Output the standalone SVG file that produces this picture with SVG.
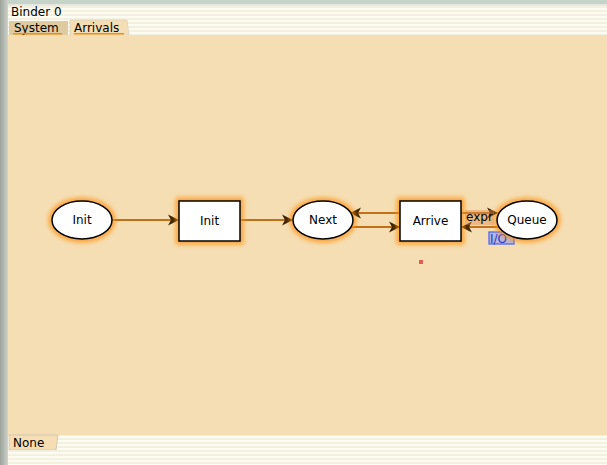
<svg xmlns="http://www.w3.org/2000/svg" width="607" height="465" viewBox="0 0 607 465">
<style>
.lbl{font-family:"DejaVu Sans","Liberation Sans",sans-serif;font-size:12px;fill:#000}
.node{fill:#fff;stroke:#000;stroke-width:1.5}
.glow{fill:none;stroke:#ff9010;stroke-width:7;stroke-opacity:0.75;filter:url(#blur)}
.arc{stroke:#c07018;stroke-width:2.2;fill:none;marker-end:url(#ah)}
.tab{font-family:"DejaVu Sans","Liberation Sans",sans-serif;font-size:12px;fill:#000}
</style>
<defs>
<filter id="blur" x="-30%" y="-30%" width="160%" height="160%"><feGaussianBlur stdDeviation="2"/></filter>
<marker id="ah" markerWidth="13" markerHeight="12" refX="11" refY="6" orient="auto" markerUnits="userSpaceOnUse">
<path d="M0,0.5 L11,6 L0,11.5 L3,6 Z" fill="#3a2200"/>
</marker>
<pattern id="stripes" width="8" height="4" patternUnits="userSpaceOnUse">
<rect width="8" height="4" fill="#fdfcf3"/>
<rect y="2" width="8" height="2" fill="#f3f0e0"/>
</pattern>
<linearGradient id="lbar" x1="0" x2="1" y1="0" y2="0">
<stop offset="0" stop-color="#9aa29a"/>
<stop offset="1" stop-color="#cfd3cc"/>
</linearGradient>
</defs>
<rect width="607" height="465" fill="url(#stripes)"/>
<rect x="0" y="0" width="607" height="4" fill="#c6d3c8"/>
<rect x="0" y="4" width="607" height="2" fill="#e6e8e0"/>
<rect x="0" y="0" width="8" height="465" fill="url(#lbar)"/>
<text x="11" y="16" class="tab">Binder 0</text>
<path d="M9,35 L9,21 L68,21 L68,35 Z" fill="#e0cba0"/>
<text x="14" y="32" class="tab">System</text>
<rect x="13" y="33" width="49" height="1.5" fill="#ff8c00"/>
<path d="M70,35 L70,20 L127,20 L129,35 Z" fill="#f5deb3" stroke="#d8d4c4" stroke-width="0.8"/>
<text x="74" y="32" class="tab">Arrivals</text>
<rect x="74" y="33" width="50" height="1.5" fill="#ff8c00"/>
<rect x="8" y="35" width="599" height="400" fill="#f5deb3"/>
<path d="M9,435 L9,450 L56,450 L58,435 Z" fill="#f5deb3" stroke="#c8c2b0" stroke-width="0.8"/>
<text x="13" y="447" class="tab">None</text>
<rect x="8" y="450" width="599" height="15" fill="url(#stripes)"/>
<rect x="8" y="436" width="1" height="14" fill="#ece8dc"/>

<g id="connectors">
<line x1="112" y1="220" x2="179" y2="220" class="arc"/>
<line x1="240" y1="220" x2="293" y2="220" class="arc"/>
<line x1="400" y1="213" x2="350" y2="213" class="arc"/>
<line x1="350" y1="227" x2="400" y2="227" class="arc"/>
<line x1="461" y1="213" x2="498" y2="213" class="arc"/>
<line x1="498" y1="227" x2="461" y2="227" class="arc"/>
<rect x="465" y="210" width="29" height="15" fill="#e08a50" fill-opacity="0.45"/>
<text x="466" y="221" class="lbl">expr</text>
<rect x="489" y="232" width="25" height="12" fill="#8a9cff" fill-opacity="0.6" stroke="#5068f0" stroke-width="1.3"/>
<text x="490" y="243" class="lbl" style="fill:#2838c8">I/O</text>
</g>

<g id="place-init">
<ellipse cx="82" cy="220" rx="30" ry="19" class="glow"/>
<ellipse cx="82" cy="220" rx="30" ry="19" class="node"/>
<text x="82" y="224" class="lbl" text-anchor="middle">Init</text>
</g>
<g id="trans-init">
<rect x="179" y="201" width="61" height="40" class="glow"/>
<rect x="179" y="201" width="61" height="40" class="node"/>
<text x="209.5" y="225" class="lbl" text-anchor="middle">Init</text>
</g>
<g id="place-next">
<ellipse cx="323" cy="220" rx="30" ry="19" class="glow"/>
<ellipse cx="323" cy="220" rx="30" ry="19" class="node"/>
<text x="323" y="224" class="lbl" text-anchor="middle">Next</text>
</g>
<g id="trans-arrive">
<rect x="400" y="201" width="61" height="40" class="glow"/>
<rect x="400" y="201" width="61" height="40" class="node"/>
<text x="430.5" y="225" class="lbl" text-anchor="middle">Arrive</text>
</g>
<g id="place-queue">
<ellipse cx="527" cy="220" rx="30" ry="19" class="glow"/>
<ellipse cx="527" cy="220" rx="30" ry="19" class="node"/>
<text x="527" y="224" class="lbl" text-anchor="middle">Queue</text>
</g>
<rect x="419" y="260" width="4" height="4" fill="#e06050"/>
</svg>
